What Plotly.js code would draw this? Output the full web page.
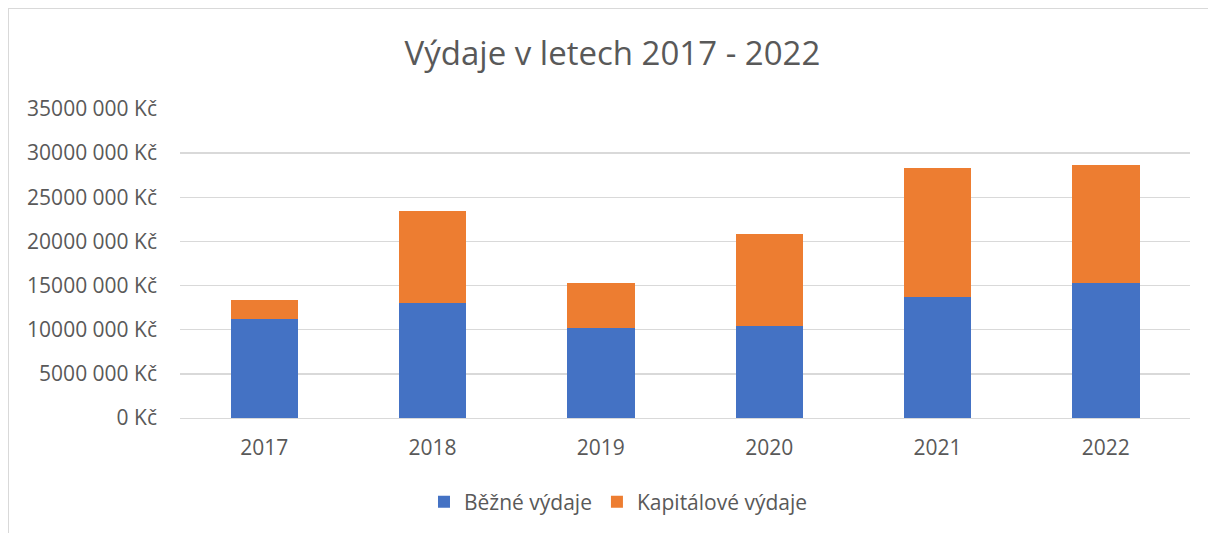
<!DOCTYPE html>
<html>
<head>
<meta charset="utf-8">
<script src="https://cdn.plot.ly/plotly-3.0.1.min.js"></script>
<style>
html,body{margin:0;padding:0;background:#fff;}
#frame{position:absolute;left:8px;top:8px;width:1300px;height:600px;border-left:1px solid #d9d9d9;border-top:1px solid #d9d9d9;}
#chart{position:absolute;left:0;top:0;width:1208px;height:533px;}
</style>
</head>
<body>
<div id="frame"></div>
<div id="chart"></div>
<script>
const years = ['2017','2018','2019','2020','2021','2022'];
const bezneVydaje = [11260000, 13040000, 10240000, 10460000, 13680000, 15270000];
const kapitaloveVydaje = [2080000, 10460000, 5030000, 10370000, 14630000, 13380000];
const tickVals = [0, 5000000, 10000000, 15000000, 20000000, 25000000, 30000000, 35000000];
const tickLabels = ['0 Kč','5000 000 Kč','10000 000 Kč','15000 000 Kč','20000 000 Kč','25000 000 Kč','30000 000 Kč','35000 000 Kč'];

const FONT = 'Open Sans, Noto Sans, sans-serif';
const traces = [
  {type:'bar', name:'Běžné výdaje', x:years, y:bezneVydaje, marker:{color:'#4472C4'}},
  {type:'bar', name:'Kapitálové výdaje', x:years, y:kapitaloveVydaje, marker:{color:'#ED7D31'}}
];
const layout = {
  width:1208, height:533,
  paper_bgcolor:'rgba(0,0,0,0)', plot_bgcolor:'rgba(0,0,0,0)',
  margin:{l:180, r:18, t:109, b:115},
  barmode:'stack', bargap:0.6,
  font:{family:FONT, color:'#595959', size:21},
  title:{text:'Výdaje v letech 2017 - 2022', font:{family:FONT, size:33, color:'#595959'}, x:0.507, xref:'container', xanchor:'center', y:0.9, yref:'container', yanchor:'middle'},
  xaxis:{type:'category', showgrid:false, showline:true, linecolor:'#d9d9d9', linewidth:1.3, ticks:'', tickfont:{size:21, color:'#595959'}, ticklabelstandoff:10},
  yaxis:{range:[0,35000000], tickvals:tickVals, ticktext:tickLabels, showgrid:true, gridcolor:'#d9d9d9', gridwidth:1.3, zeroline:false, showline:false, ticks:'', tickfont:{size:21, color:'#595959'}, ticklabelstandoff:22},
  showlegend:true,
  legend:{orientation:'h', x:0.512, xref:'container', xanchor:'center', y:0.058, yref:'container', yanchor:'middle', font:{size:21, color:'#595959'}, itemwidth:30, traceorder:'normal'}
};
Plotly.newPlot('chart', traces, layout, {displayModeBar:false, staticPlot:true});
</script>
</body>
</html>
